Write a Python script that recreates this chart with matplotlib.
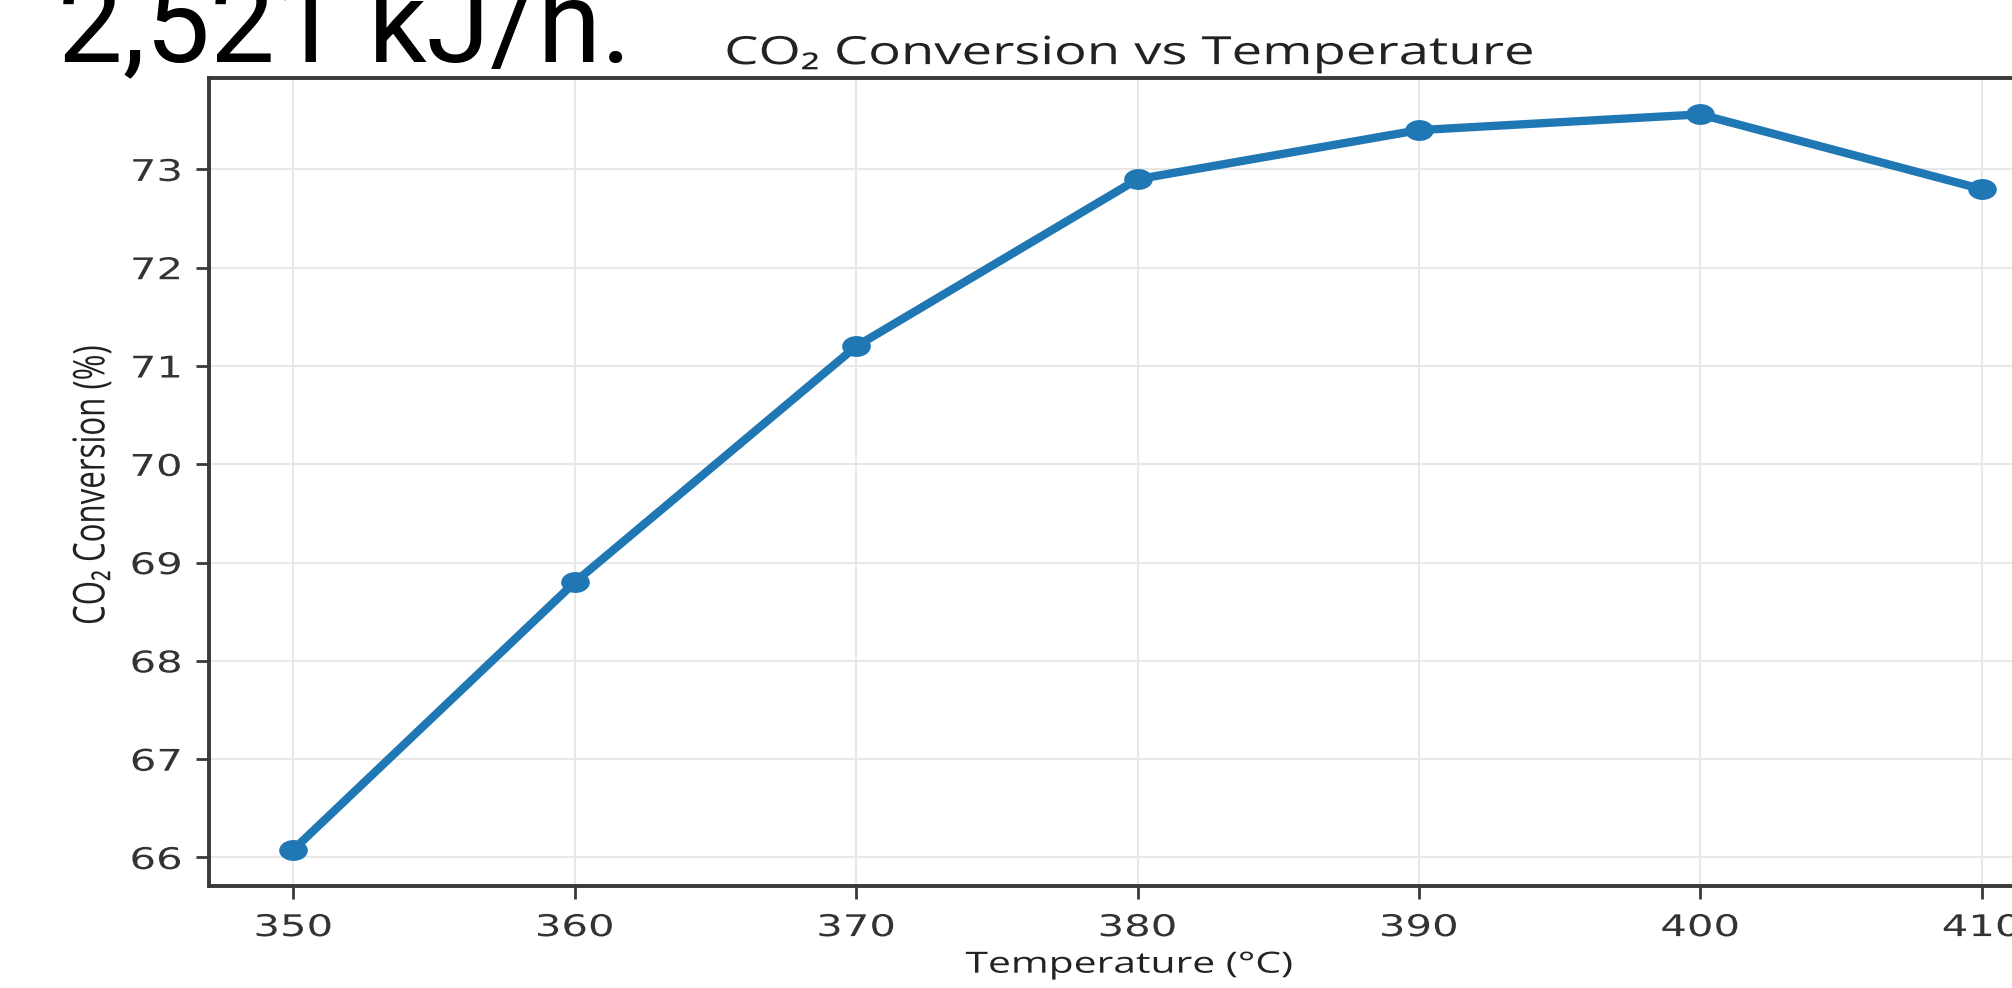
import matplotlib
matplotlib.use("Agg")
import matplotlib.pyplot as plt
from matplotlib.patheffects import AbstractPathEffect
from matplotlib.transforms import Affine2D
from matplotlib.markers import MarkerStyle

temperatures = [350, 360, 370, 380, 390, 400, 410]
conversion = [66.08, 68.8, 71.2, 72.9, 73.4, 73.56, 72.8]
x_ticks = [350, 360, 370, 380, 390, 400, 410]
y_ticks = [66, 67, 68, 69, 70, 71, 72, 73]

SX = 1.4  # horizontal stretch of the screenshot


class HStretch(AbstractPathEffect):
    """Stretch drawn text horizontally about an anchor of its ink box."""

    def __init__(self, sx=SX, anchor="center"):
        super().__init__()
        self.sx = sx
        self.anchor = anchor

    def draw_path(self, renderer, gc, tpath, affine, rgbFace=None):
        ext = tpath.get_extents(affine)
        if self.anchor == "right":
            cx = ext.x1
        elif self.anchor == "left":
            cx = ext.x0
        else:
            cx = 0.5 * (ext.x0 + ext.x1)
        new = affine + Affine2D().translate(-cx, 0).scale(self.sx, 1).translate(cx, 0)
        renderer.draw_path(gc, tpath, new, rgbFace)


W, H = 2012, 988
fig = plt.figure(figsize=(W / 100, H / 100), dpi=100)
fig.patch.set_facecolor("white")

left, right, top, bottom = 209, 2066, 78, 886
ax = fig.add_axes([left / W, 1 - bottom / H, (right - left) / W, (bottom - top) / H])

marker = MarkerStyle("o", transform=Affine2D().scale(SX, 1))
ax.plot(temperatures, conversion, color="#1f77b4", linewidth=6,
        marker=marker, markersize=14, solid_capstyle="round")

ax.set_xticks(x_ticks)
ax.set_yticks(y_ticks)
ax.set_xlim(347, 413)
ax.set_ylim(65.71, 73.93)
ax.grid(True, color="#e8e8e8", linewidth=1.5)
ax.set_axisbelow(True)

for s in ax.spines.values():
    s.set_color("#3a3a3a")
    s.set_linewidth(2.8)
ax.tick_params(axis="both", length=9.5, width=2, color="#3a3a3a",
               labelsize=21.5, labelcolor="#333333")
ax.tick_params(axis="x", pad=10)
ax.tick_params(axis="y", pad=10)
ax.set_xticklabels([str(v) for v in x_ticks], fontfamily="DejaVu Sans")
ax.set_yticklabels([str(v) for v in y_ticks], fontfamily="DejaVu Sans")
for lab in ax.get_xticklabels():
    lab.set_path_effects([HStretch(SX, "center")])
for lab in ax.get_yticklabels():
    lab.set_path_effects([HStretch(SX, "right")])

title = ax.set_title("CO₂ Conversion vs Temperature", fontsize=28, family="Open Sans",
                     color="#222222", pad=10, x=0.4955)
title.set_path_effects([HStretch(SX, "center")])

xl = ax.set_xlabel("Temperature (°C)", fontsize=21, family="Open Sans", color="#222222")
ax.xaxis.set_label_coords(0.4955, -0.080)
xl.set_path_effects([HStretch(SX, "center")])

yl = ax.set_ylabel("CO₂ Conversion (%)", fontsize=22.5, family="Open Sans", color="#222222")
ax.yaxis.set_label_coords(-0.0545, 0.496)
yl.set_path_effects([HStretch(SX, "center")])

fig.text(58 / W, 1 - 61 / H, "2,521 kJ/h.", fontsize=83, family="Roboto",
         color="black", ha="left", va="baseline")

fig.savefig("out.png", dpi=100)
